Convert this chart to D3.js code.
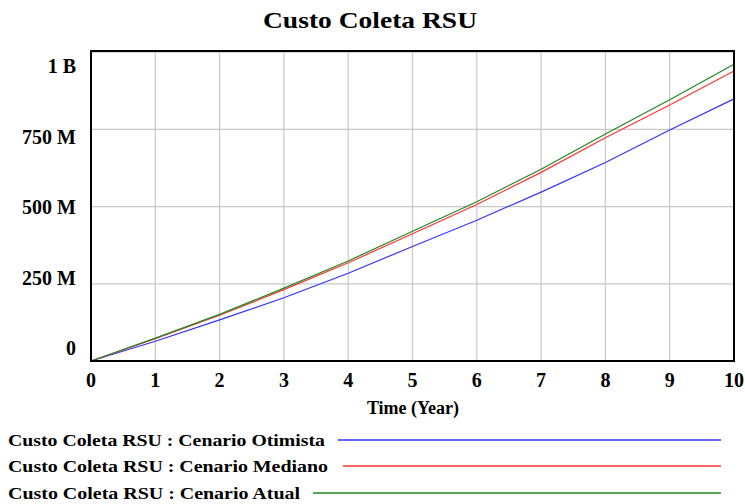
<!DOCTYPE html>
<html><head><meta charset="utf-8">
<script src="https://cdn.jsdelivr.net/npm/d3@7"></script>
<style>body{margin:0;background:#fff}svg{display:block}text{font-family:"Liberation Serif","Times New Roman",serif;font-weight:bold;fill:#000}</style>
</head><body>
<script>
const title = "Custo Coleta RSU";
const years = [0,1,2,3,4,5,6,7,8,9,10];
const otimista = [0,0.064e9,0.133e9,0.205e9,0.284e9,0.371e9,0.456e9,0.547e9,0.643e9,0.748e9,0.849e9];
const mediano  = [0,0.072e9,0.148e9,0.231e9,0.318e9,0.412e9,0.507e9,0.611e9,0.723e9,0.829e9,0.939e9];
const atual    = [0,0.074e9,0.151e9,0.236e9,0.324e9,0.420e9,0.516e9,0.621e9,0.735e9,0.846e9,0.961e9];
const yTicks = [0,250e6,500e6,750e6,1e9];
const yTickLabels = ["0","250 M","500 M","750 M","1 B"];
const xTicks = [0,1,2,3,4,5,6,7,8,9,10];
const seriesNames = ["Custo Coleta RSU : Cenario Otimista","Custo Coleta RSU : Cenario Mediano","Custo Coleta RSU : Cenario Atual"];
const seriesColors = ["#3333ff","#ff3333","#208820"];
const series = [otimista, mediano, atual];

const W=745,H=504;
const svg=d3.select("body").append("svg").attr("width",W).attr("height",H);
const L=91,R=734,T=51,B=361;
const x=d3.scaleLinear().domain([0,10]).range([L,R]);
const y=d3.scaleLinear().domain([0,1.004e9]).range([B,T]);
const yLab=d3.scaleLinear().domain([0,1e9]).range([348,66]);

svg.append("text").attr("x",370).attr("y",28).attr("text-anchor","middle").style("font-size","24px")
  .attr("textLength",214).attr("lengthAdjust","spacingAndGlyphs").text(title);

const g=svg.append("g");
g.selectAll("line.gx").data(xTicks.slice(1,-1)).enter().append("line")
 .attr("x1",d=>x(d)).attr("x2",d=>x(d)).attr("y1",T).attr("y2",B).attr("stroke","#c8c8c8").attr("stroke-width",1.2);
g.selectAll("line.gy").data(yTicks.slice(1)).enter().append("line")
 .attr("x1",L).attr("x2",R).attr("y1",d=>y(d)).attr("y2",d=>y(d)).attr("stroke","#c8c8c8").attr("stroke-width",1.2);

const line=d3.line().x((d,i)=>x(years[i])).y(d=>y(d));
series.forEach((s,i)=>{
  svg.append("path").datum(s).attr("d",line).attr("fill","none").attr("stroke",seriesColors[i]).attr("stroke-width",1.2);
});

svg.append("rect").attr("x",L).attr("y",T).attr("width",R-L).attr("height",B-T).attr("fill","none").attr("stroke","#000").attr("stroke-width",2);

svg.selectAll("text.yt").data(yTicks).enter().append("text")
 .attr("x",76).attr("y",d=>yLab(d)+7).attr("text-anchor","end").style("font-size","20px").text((d,i)=>yTickLabels[i]);
svg.selectAll("text.xt").data(xTicks).enter().append("text")
 .attr("x",d=>x(d)).attr("y",387).attr("text-anchor","middle").style("font-size","20px").text(d=>d);
svg.append("text").attr("x",413).attr("y",414).attr("text-anchor","middle").style("font-size","18px").text("Time (Year)");

const legY=[440,466,493];
const legTextLen=[317,320,292];
const legLineStart=[338,343,313];
seriesNames.forEach((n,i)=>{
  svg.append("text").attr("x",8).attr("y",legY[i]+6).style("font-size","17px")
    .attr("textLength",legTextLen[i]).attr("lengthAdjust","spacingAndGlyphs").text(n);
  svg.append("line").attr("x1",legLineStart[i]).attr("x2",721).attr("y1",legY[i]).attr("y2",legY[i])
    .attr("stroke",seriesColors[i]).attr("stroke-width",1.5);
});
</script>
</body></html>
